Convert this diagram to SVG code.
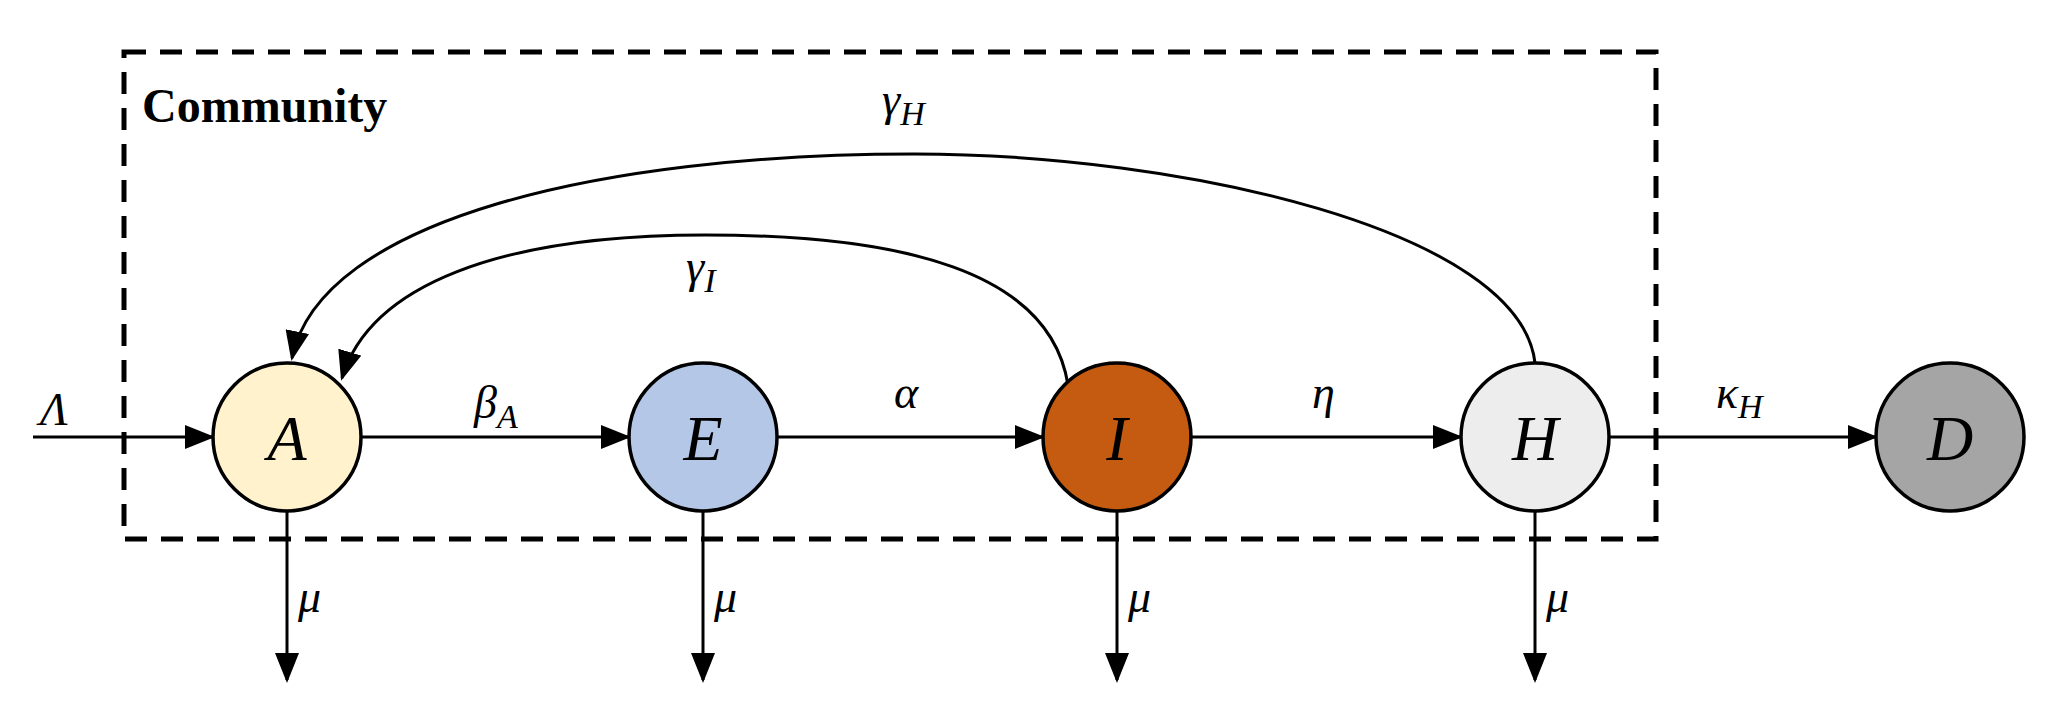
<svg xmlns="http://www.w3.org/2000/svg" width="2048" height="712" viewBox="0 0 2048 712">
<defs>
<marker id="ah" markerWidth="10" markerHeight="8" refX="9" refY="4" orient="auto" markerUnits="userSpaceOnUse" viewBox="0 0 10 8">
<path d="M0,0 L10,4 L0,8 Z" fill="#000"/>
</marker>
<marker id="ahb" viewBox="0 0 10 8" refX="9" refY="4" markerWidth="30" markerHeight="24" orient="auto" markerUnits="userSpaceOnUse"><path d="M0,0 L10,4 L0,8 Z" fill="#000"/></marker>
</defs>
<style>
.n{stroke:#000;stroke-width:3.5}
.t{font-family:"Liberation Serif",serif;font-style:italic;fill:#000}
.c{fill:none;stroke:#000;stroke-width:3}
</style>
<rect width="2048" height="712" fill="#fff"/>
<rect x="124" y="52" width="1532" height="487" fill="none" stroke="#000" stroke-width="5" stroke-dasharray="22,14"/>
<text x="142" y="122" font-family="Liberation Serif,serif" font-weight="bold" font-size="48">Community</text>
<g id="connectors">
<path class="c" d="M33,437 H212" marker-end="url(#ahb)"/>
<path class="c" d="M362,437 H628" marker-end="url(#ahb)"/>
<path class="c" d="M778,437 H1042" marker-end="url(#ahb)"/>
<path class="c" d="M1192,437 H1460" marker-end="url(#ahb)"/>
<path class="c" d="M1610,437 H1875" marker-end="url(#ahb)"/>
<path class="c" d="M287,512 V680" marker-end="url(#ahb)"/>
<path class="c" d="M703,512 V680" marker-end="url(#ahb)"/>
<path class="c" d="M1117,512 V680" marker-end="url(#ahb)"/>
<path class="c" d="M1535,512 V680" marker-end="url(#ahb)"/>
<path class="c" d="M1535,363 C1520,230 1180,154 914,154 C600,154 320,220 292,358" marker-end="url(#ahb)"/>
<path class="c" d="M1068,385 C1050,270 900,235 705,235 C500,235 370,285 342,378" marker-end="url(#ahb)"/>
<text class="t" x="40" y="425" font-size="46" font-style="normal">Λ</text>
<text class="t" x="474" y="418" font-size="46">β<tspan font-size="34" dy="10">A</tspan></text>
<text class="t" x="894" y="408" font-size="46">α</text>
<text class="t" x="1312" y="408" font-size="46">η</text>
<text class="t" x="1716" y="408" font-size="46">κ<tspan font-size="34" dy="10">H</tspan></text>
<text class="t" x="882" y="115" font-size="46">γ<tspan font-size="34" dy="10">H</tspan></text>
<text class="t" x="686" y="282" font-size="46">γ<tspan font-size="34" dy="10">I</tspan></text>
<text class="t" x="298" y="612" font-size="46">μ</text>
<text class="t" x="714" y="612" font-size="46">μ</text>
<text class="t" x="1128" y="612" font-size="46">μ</text>
<text class="t" x="1546" y="612" font-size="46">μ</text>
</g>
<g id="A"><circle class="n" cx="287" cy="437" r="74" fill="#FFF2CC"/><text class="t" x="287" y="460" font-size="64" text-anchor="middle">A</text></g>
<g id="E"><circle class="n" cx="703" cy="437" r="74" fill="#B4C7E7"/><text class="t" x="703" y="460" font-size="64" text-anchor="middle">E</text></g>
<g id="I"><circle class="n" cx="1117" cy="437" r="74" fill="#C55A11"/><text class="t" x="1117" y="460" font-size="64" text-anchor="middle">I</text></g>
<g id="H"><circle class="n" cx="1535" cy="437" r="74" fill="#EDEDED"/><text class="t" x="1535" y="460" font-size="64" text-anchor="middle">H</text></g>
<g id="D"><circle class="n" cx="1950" cy="437" r="74" fill="#A5A5A5"/><text class="t" x="1950" y="460" font-size="64" text-anchor="middle">D</text></g>
</svg>
